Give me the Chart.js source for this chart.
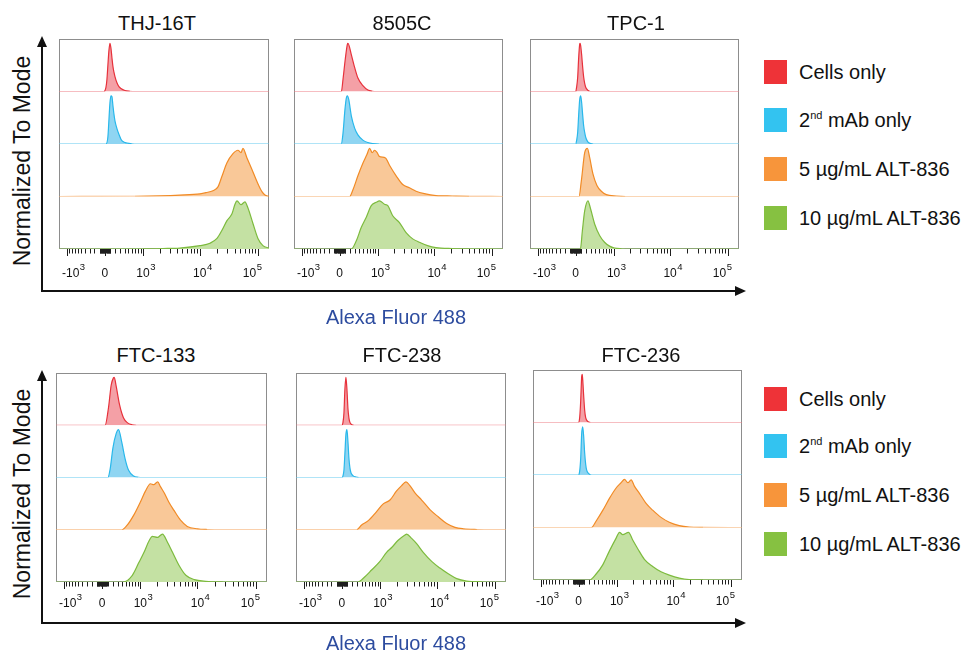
<!DOCTYPE html>
<html>
<head>
<meta charset="utf-8">
<title>ALT-836 binding - flow cytometry histograms</title>
<script src="https://cdn.jsdelivr.net/npm/chart.js@4.4.1/dist/chart.umd.min.js"></script>
<style>
    html, body { margin: 0; padding: 0; background: #fff; }
    #figure {
        position: relative;
        width: 970px;
        height: 656px;
        overflow: hidden;
        font-family: "Liberation Sans", Arial, sans-serif;
        color: #111;
    }
    #figure canvas { position: absolute; }
    #arrows { position: absolute; left: 0; top: 0; }
    .panel-title {
        position: absolute;
        font-size: 20px;
        line-height: 20px;
        white-space: nowrap;
        transform: translate(-50%, -50%);
    }
    .y-label {
        position: absolute;
        font-size: 23px;
        line-height: 23px;
        white-space: nowrap;
        transform: translate(-50%, -50%) rotate(-90deg);
    }
    .x-label {
        position: absolute;
        font-size: 20px;
        line-height: 20px;
        color: #2d4c9f;
        white-space: nowrap;
        transform: translate(-50%, -50%);
    }
    .legend-item {
        position: absolute;
        left: 764px;
        height: 24px;
        display: flex;
        align-items: center;
        transform: translateY(-50%);
    }
    .legend-item .swatch { width: 23px; height: 24px; }
    .legend-item .text { margin-left: 12px; font-size: 20px; line-height: 24px; white-space: nowrap; }
    .legend-item sup { font-size: 11px; line-height: 0; vertical-align: 0; position: relative; top: -8px; }
</style>
</head>
<body>
<div id="figure">
    <svg id="arrows" width="970" height="656"></svg>
</div>
<script>
// ---------------------------------------------------------------------------
// Data (histograms are [fluorescence, % of mode])
// ---------------------------------------------------------------------------
const panelNames = ['THJ-16T', '8505C', 'TPC-1', 'FTC-133', 'FTC-238', 'FTC-236'];
const seriesNames = ['Cells only', '2nd mAb only', '5 µg/mL ALT-836', '10 µg/mL ALT-836'];
const axisTitleX = 'Alexa Fluor 488';
const axisTitleY = 'Normalized To Mode';

const tickValues = [-1000, 0, 1000, 10000, 100000];
const tickLabels = ['-10^3', '0', '10^3', '10^4', '10^5'];
const minorTickValues = [
    -900, -800, -700, -600, -500, -400, -300, -200, -100,
    -90, -80, -70, -60, -50, -40, -30, -20, -10,
    10, 20, 30, 40, 50, 60, 70, 80, 90,
    100, 200, 300, 400, 500, 600, 700, 800, 900,
    2000, 3000, 4000, 5000, 6000, 7000, 8000, 9000,
    20000, 30000, 40000, 50000, 60000, 70000, 80000, 90000
];

// THJ-16T
const thj16tCells = [[-1400, 0], [-18, 0], [18, 8], [37, 25], [55, 55], [74, 85], [93, 100], [112, 90], [131, 70], [150, 52], [170, 40], [190, 31], [230, 18], [272, 10], [316, 6], [409, 2], [542, 0.5], [696, 0], [156000, 0]];
const thj16tMab = [[-1400, 0], [18, 0], [55, 15], [74, 50], [93, 85], [112, 100], [131, 98], [150, 80], [170, 62], [190, 48], [230, 32], [272, 20], [316, 10], [361, 5], [460, 2], [600, 0.5], [762, 0], [156000, 0]];
const thj16tAlt5 = [[-1400, 0], [696, 0.5], [2033, 1.5], [4493, 3], [10080, 5.6], [12790, 8], [16890, 12], [20600, 20], [24130, 42], [29440, 70], [37350, 89], [45570, 96], [51340, 91], [55540, 100], [65100, 80], [79330, 56], [96770, 31], [117900, 10], [132800, 3], [156000, 0]];
const thj16tAlt10 = [[-1400, 0], [1000, 0.3], [2301, 1], [4493, 2], [10080, 7], [15000, 12], [19800, 22], [24130, 39], [29440, 59], [35900, 73], [40450, 93], [43800, 100], [51340, 92], [60120, 98], [67740, 85], [82540, 53], [100600, 22], [122700, 7], [156000, 2]];

// 8505C
const c8505Cells = [[-1400, 0], [31, 0], [61, 25], [106, 69], [144, 98], [156, 100], [224, 76], [293, 50], [368, 28], [493, 12], [639, 3], [797, 0.5], [1000, 0], [156000, 0]];
const c8505Mab = [[-1400, 0], [31, 0], [61, 22], [98, 72], [125, 96], [144, 100], [170, 93], [224, 58], [293, 33], [368, 19], [493, 8], [639, 3], [797, 1], [1089, 0], [156000, 0]];
const c8505Alt5 = [[-1400, 0], [190, 0], [257, 14], [368, 43], [493, 69], [609, 87], [696, 100], [786, 91], [874, 96], [981, 91], [1089, 83], [1404, 80], [1660, 65], [2180, 43], [2847, 25], [3728, 18], [4867, 11], [6771, 6], [10780, 2], [20600, 1], [40450, 0.3], [156000, 0]];
const c8505Alt10 = [[-1400, 0], [224, 0], [331, 17], [452, 45], [590, 66], [752, 90], [941, 97], [1089, 100], [1345, 93], [1548, 90], [1897, 69], [2494, 55], [3260, 34], [4255, 21], [5552, 14], [7723, 7], [10780, 3], [20600, 1], [40450, 0.3], [156000, 0]];

// TPC-1
const tpc1Cells = [[-1400, 0], [0, 0], [18, 10], [37, 30], [55, 70], [74, 98], [83, 100], [93, 95], [112, 75], [131, 50], [150, 30], [170, 17], [190, 9], [230, 3], [272, 0.5], [316, 0], [156000, 0]];
const tpc1Mab = [[-1400, 0], [0, 0], [18, 8], [37, 25], [55, 60], [74, 92], [93, 100], [112, 85], [131, 60], [150, 38], [170, 24], [190, 14], [230, 5], [293, 1], [361, 0], [156000, 0]];
const tpc1Alt5 = [[-1400, 0], [61, 0], [106, 33], [170, 91], [224, 100], [272, 81], [345, 47], [442, 23], [562, 11], [718, 4], [1122, 1], [1660, 0], [156000, 0]];
const tpc1Alt10 = [[-1400, 0], [87, 0], [125, 38], [170, 79], [236, 100], [293, 83], [385, 52], [513, 28], [660, 14], [835, 6], [1044, 2], [1404, 0.5], [2033, 0], [156000, 0]];

// FTC-133
const ftc133Cells = [[-1400, 0], [55, 0], [117, 36], [170, 84], [215, 99], [230, 100], [272, 81], [345, 43], [442, 15], [550, 5], [682, 1], [835, 0], [156000, 0]];
const ftc133Mab = [[-1400, 0], [106, 0], [150, 18], [204, 62], [272, 92], [322, 100], [401, 72], [485, 38], [579, 15], [738, 3], [925, 0.5], [1089, 0], [156000, 0]];
const ftc133Alt5 = [[-1400, 0], [401, 0], [532, 9], [738, 30], [1000, 58], [1234, 80], [1530, 96], [1752, 94], [2055, 100], [2301, 90], [2701, 76], [3209, 58], [3925, 41], [5125, 20], [6690, 7], [9961, 2], [15000, 0.5], [27000, 0], [156000, 0]];
const ftc133Alt10 = [[-1400, 0], [434, 0], [696, 14], [941, 41], [1171, 62], [1447, 86], [1660, 95], [2033, 93], [2494, 100], [3048, 83], [3728, 62], [4867, 34], [6328, 14], [8840, 5], [13850, 1.5], [27200, 0.3], [156000, 0]];

// FTC-238
const ftc238Cells = [[-1400, 0], [0, 0], [18, 5], [37, 25], [55, 75], [74, 100], [93, 75], [112, 35], [131, 15], [150, 6], [190, 1], [230, 0], [156000, 0]];
const ftc238Mab = [[-1400, 0], [6, 0], [18, 3], [37, 15], [55, 50], [74, 90], [93, 100], [112, 75], [131, 40], [150, 20], [170, 10], [209, 4], [272, 1], [338, 0], [156000, 0]];
const ftc238Alt5 = [[-1400, 0], [287, 0], [401, 10], [579, 19], [860, 38], [1152, 54], [1530, 62], [2007, 81], [2463, 92], [2929, 100], [3436, 92], [4203, 77], [5486, 62], [7632, 42], [10600, 27], [14830, 13], [20600, 5], [28630, 2], [49300, 0.5], [89500, 0], [156000, 0]];
const ftc238Alt10 = [[-1400, 0], [316, 0], [485, 11], [682, 25], [1000, 43], [1328, 62], [1641, 72], [2139, 87], [2813, 98], [3010, 100], [3683, 91], [4493, 80], [5842, 62], [8169, 43], [11350, 29], [15790, 17], [22040, 7], [32760, 2], [60120, 0.5], [109000, 0], [156000, 0]];

// FTC-236
const ftc236Cells = [[-1400, 0], [-6, 0], [18, 10], [37, 45], [55, 95], [65, 100], [74, 90], [93, 55], [112, 25], [131, 10], [150, 5], [190, 1], [230, 0], [156000, 0]];
const ftc236Mab = [[-1400, 0], [-6, 0], [18, 8], [37, 35], [55, 85], [74, 100], [93, 80], [112, 45], [131, 22], [150, 10], [190, 3], [230, 0.5], [272, 0], [156000, 0]];
const ftc236Alt5 = [[-1400, 0], [245, 0], [354, 14], [521, 36], [728, 61], [981, 82], [1219, 93], [1404, 100], [1614, 93], [1852, 99], [2113, 86], [2595, 71], [3394, 50], [4422, 36], [6178, 21], [8599, 11], [12790, 4], [19030, 1], [33000, 0.3], [156000, 0]];
const ftc236Alt10 = [[-1400, 0], [209, 0], [354, 13], [521, 32], [728, 61], [981, 87], [1137, 99], [1305, 94], [1660, 99], [1974, 83], [2424, 65], [3172, 43], [4422, 28], [6178, 17], [8599, 10], [12790, 4], [19030, 1], [33000, 0.3], [156000, 0]];

const panelSeries = [
    [thj16tCells, thj16tMab, thj16tAlt5, thj16tAlt10],
    [c8505Cells, c8505Mab, c8505Alt5, c8505Alt10],
    [tpc1Cells, tpc1Mab, tpc1Alt5, tpc1Alt10],
    [ftc133Cells, ftc133Mab, ftc133Alt5, ftc133Alt10],
    [ftc238Cells, ftc238Mab, ftc238Alt5, ftc238Alt10],
    [ftc236Cells, ftc236Mab, ftc236Alt5, ftc236Alt10]
];

// ---------------------------------------------------------------------------
// Styles and layout
// ---------------------------------------------------------------------------
const lineColors = ['#e7313b', '#29b8eb', '#f18b26', '#7dbb3e'];
const fillColors = ['#f4a0a6', '#8fd5f2', '#f9c898', '#c4e1a3'];
const baseColors = ['#ee7c84', '#63c9ef', '#f6ad6c', '#8fc65e'];
const legendColors = ['#ee3338', '#33c3f0', '#f7953b', '#86c141'];

const X_MIN = -1400;
const X_MAX = 156000;
const BIEX_WIDTH = 465;   // width of the near-linear zone of the arcsinh display
const LANE_MAX = 109;

// chart area of every panel, in page pixels
const panelBoxes = [
    { left: 59, top: 39, width: 210, height: 210, labelOffset: 28 },
    { left: 294, top: 39, width: 209, height: 210, labelOffset: 28 },
    { left: 530, top: 39, width: 209, height: 210, labelOffset: 28 },
    { left: 56, top: 373, width: 211, height: 209, labelOffset: 25 },
    { left: 296, top: 373, width: 210, height: 209, labelOffset: 25 },
    { left: 533, top: 370, width: 209, height: 210, labelOffset: 25 }
];
const titlePositions = [[157, 23], [402, 23], [636, 23], [156, 355], [402, 355], [641, 355]];
const legendRows = [[71.5, 120, 169, 217.5], [399, 446, 495, 544]];

const FONT = '"Liberation Sans", Arial, sans-serif';
Chart.defaults.font.family = FONT;

// ---------------------------------------------------------------------------
// Biexponential (arcsinh) x scale, as used by flow cytometry software
// ---------------------------------------------------------------------------
class BiexScale extends Chart.LinearScale {
    buildTicks() {
        const major = tickValues.map(v => ({ value: v, major: true }));
        const minor = minorTickValues.map(v => ({ value: v, major: false }));
        return major.concat(minor).sort((a, b) => a.value - b.value);
    }

    _biexRange() {
        return [Math.asinh(this.min / BIEX_WIDTH), Math.asinh(this.max / BIEX_WIDTH)];
    }

    getPixelForValue(value) {
        if (value === null || isNaN(value)) {
            return NaN;
        }
        const [t0, t1] = this._biexRange();
        return this.getPixelForDecimal((Math.asinh(value / BIEX_WIDTH) - t0) / (t1 - t0));
    }

    getValueForPixel(pixel) {
        const [t0, t1] = this._biexRange();
        return BIEX_WIDTH * Math.sinh(t0 + this.getDecimalForPixel(pixel) * (t1 - t0));
    }

    // tick marks below the frame: long for decades, short for the rest
    drawGrid() {
        const ctx = this.ctx;
        ctx.save();
        ctx.strokeStyle = '#1e1e1e';
        ctx.lineWidth = 1;
        ctx.beginPath();
        this.ticks.forEach(tick => {
            const x = Math.round(this.getPixelForValue(tick.value)) + 0.5;
            ctx.moveTo(x, this.top);
            ctx.lineTo(x, this.top + (tick.major ? 7 : 4.5));
        });
        ctx.stroke();
        ctx.restore();
    }

    // "10^3" style labels with a raised exponent, kept inside the frame
    drawLabels() {
        const ctx = this.ctx;
        const y = this.top + (this.options.labelOffset || 24);
        const baseFont = '12px ' + FONT;
        const expFont = '9.5px ' + FONT;
        ctx.save();
        ctx.fillStyle = '#111';
        ctx.textAlign = 'left';
        ctx.textBaseline = 'alphabetic';
        tickValues.forEach((value, i) => {
            const [base, exponent] = tickLabels[i].split('^');
            ctx.font = baseFont;
            const w = ctx.measureText(base).width;
            ctx.font = expFont;
            const ew = exponent ? ctx.measureText(exponent).width + 0.5 : 0;
            let x = this.getPixelForValue(value) - w / 2;
            x = Math.max(x, this.left + 3);
            x = Math.min(x, this.right - 7 - w - ew);
            ctx.font = baseFont;
            ctx.fillText(base, x, y);
            if (exponent) {
                ctx.font = expFont;
                ctx.fillText(exponent, x + w + 0.5, y - 7);
            }
        });
        ctx.restore();
    }
}
BiexScale.id = 'biex';
Chart.register(BiexScale);

// grey frame round each panel
const framePlugin = {
    id: 'panelFrame',
    beforeDatasetsDraw(chart) {
        const { ctx, chartArea: a } = chart;
        ctx.save();
        ctx.strokeStyle = '#8d8d8d';
        ctx.lineWidth = 1;
        ctx.strokeRect(a.left + 0.5, a.top + 0.5, a.width - 1, a.height - 1);
        ctx.restore();
    }
};

const figure = document.getElementById('figure');

/**
 * Builds one ridgeline panel: four stacked y scales, one per condition
 * @param {number} index - panel index
 */
function makePanel(index) {
    const box = panelBoxes[index];
    const padL = 16, padR = 16, padT = 2, axisH = 34;

    const canvas = document.createElement('canvas');
    canvas.width = box.width + padL + padR;
    canvas.height = box.height + padT + axisH;
    canvas.style.left = (box.left - padL) + 'px';
    canvas.style.top = (box.top - padT) + 'px';
    figure.appendChild(canvas);

    const scales = {
        x: {
            type: 'biex',
            position: 'bottom',
            min: X_MIN,
            max: X_MAX,
            labelOffset: box.labelOffset,
            border: { display: false },
            grid: { display: false },
            ticks: {
                autoSkip: false,
                maxRotation: 0,
                minRotation: 0,
                font: { size: 11 },
                callback: function(value) {
                    const i = tickValues.indexOf(value);
                    return i >= 0 ? tickLabels[i] : '';
                }
            },
            afterFit: function(scale) {
                scale.height = axisH;
            }
        }
    };
    seriesNames.forEach((name, lane) => {
        scales['y' + lane] = {
            type: 'linear',
            position: 'right',
            stack: 'lanes',
            stackWeight: 1,
            min: 0,
            max: LANE_MAX,
            display: false
        };
    });

    const datasets = panelSeries[index].map((data, lane) => ({
        label: seriesNames[lane],
        data: data,
        yAxisID: 'y' + lane,
        borderColor: lineColors[lane],
        backgroundColor: fillColors[lane],
        borderWidth: 1.2,
        pointRadius: 0,
        fill: 'origin',
        cubicInterpolationMode: 'monotone',
        segment: {
            // the flat zero line looks paler than the peak outline
            borderColor: ctx => (ctx.p0.parsed.y < 1 && ctx.p1.parsed.y < 1) ? baseColors[lane] : undefined
        }
    }));

    new Chart(canvas, {
        type: 'line',
        data: { datasets },
        options: {
            responsive: false,
            animation: false,
            devicePixelRatio: 1,
            events: [],
            layout: { padding: { left: padL, right: padR, top: padT, bottom: 0 } },
            plugins: {
                legend: { display: false },
                tooltip: { enabled: false },
                title: { display: false }
            },
            scales: scales
        },
        plugins: [framePlugin]
    });
}

function addText(className, text, x, y) {
    const el = document.createElement('div');
    el.className = className;
    el.textContent = text;
    el.style.left = x + 'px';
    el.style.top = y + 'px';
    figure.appendChild(el);
}

function addLegend(rows) {
    rows.forEach((y, i) => {
        const item = document.createElement('div');
        item.className = 'legend-item';
        item.style.top = y + 'px';
        const swatch = document.createElement('div');
        swatch.className = 'swatch';
        swatch.style.background = legendColors[i];
        const text = document.createElement('div');
        text.className = 'text';
        text.innerHTML = seriesNames[i].replace(/^2nd/, '2<sup>nd</sup>');
        item.appendChild(swatch);
        item.appendChild(text);
        figure.appendChild(item);
    });
}

// axis arrows of both rows
function drawArrows() {
    const svg = document.getElementById('arrows');
    const rows = [{ y: 291, top: 36 }, { y: 623, top: 370 }];
    let html = '';
    rows.forEach(r => {
        html += `<line x1="42" y1="${r.y}" x2="42" y2="${r.top + 9}" stroke="#111" stroke-width="2"/>`;
        html += `<polygon points="42,${r.top} 37,${r.top + 11} 47,${r.top + 11}" fill="#111"/>`;
        html += `<line x1="41" y1="${r.y}" x2="737" y2="${r.y}" stroke="#111" stroke-width="2"/>`;
        html += `<polygon points="746,${r.y} 735,${r.y - 5} 735,${r.y + 5}" fill="#111"/>`;
    });
    svg.innerHTML = html;
}

panelNames.forEach((name, i) => {
    makePanel(i);
    addText('panel-title', name, titlePositions[i][0], titlePositions[i][1]);
});
addText('y-label', axisTitleY, 22, 161);
addText('y-label', axisTitleY, 22, 494);
addText('x-label', axisTitleX, 396, 317);
addText('x-label', axisTitleX, 396, 643);
legendRows.forEach(addLegend);
drawArrows();
</script>
</body>
</html>
